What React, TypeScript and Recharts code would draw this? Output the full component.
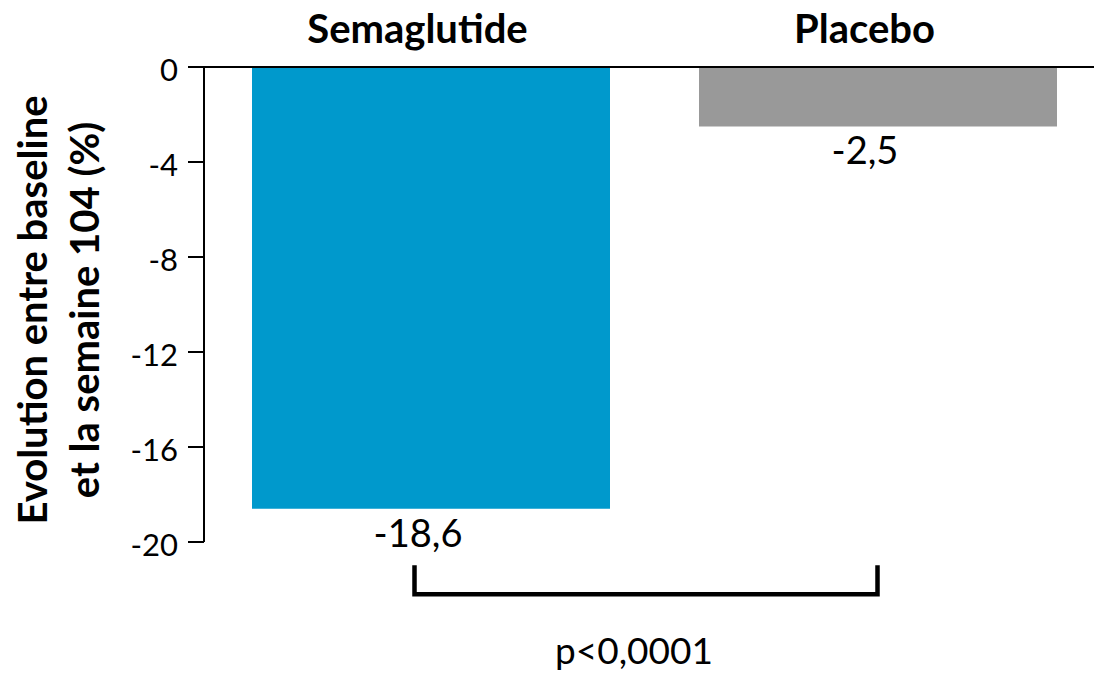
import React from 'react';
import { BarChart, Bar, XAxis, YAxis, Cell, LabelList, ReferenceLine } from 'recharts';

const groups = ['Semaglutide', 'Placebo'];
const changes = [-18.6, -2.5];
const barColors = ['#0099CC', '#999999'];
const yTicks = [0, -4, -8, -12, -16, -20];
const yTitle = ['Evolution entre baseline', 'et la semaine 104 (%)'];
const pValue = 'p<0,0001';
const bracketLevel = -22.2;

const data = groups.map((g, i) => ({ group: g, change: changes[i] }));

const FONT = 'Lato, "Open Sans", sans-serif';

// labels sit a bit left of the bar centres in the original
const SHIFT = -13;

const fmt = (v: number) => String(v).replace('.', ',');

const GroupTick = (props: any) => {
  const { x, payload } = props;
  return (
    <text x={x + SHIFT} y={43} textAnchor="middle" fontFamily={FONT} fontSize={40} fontWeight={700} fill="#000">
      {payload.value}
    </text>
  );
};

const ValueLabel = (props: any) => {
  const { x, y, width, height, value } = props;
  const bottom = Math.max(y, y + height);
  return (
    <text x={x + width / 2 + SHIFT} y={bottom + 38} textAnchor="middle" fontFamily={FONT} fontSize={38} fill="#000">
      {fmt(value)}
    </text>
  );
};

const YTitle = () => (
  <g fontFamily={FONT} fontSize={40} fontWeight={700} fill="#000">
    <text transform="translate(47,310) rotate(-90)" textAnchor="middle">{yTitle[0]}</text>
    <text transform="translate(99,310) rotate(-90)" textAnchor="middle">{yTitle[1]}</text>
  </g>
);

const Bracket = (props: any) => {
  const { x1, y1, x2 } = props;
  if (x1 == null) return null;
  const left = x1 - 16;
  const y = y1;
  return (
    <g>
      <path d={`M${left},${y - 29} V${y} H${x2} V${y - 29}`} fill="none" stroke="#000" strokeWidth={4.5} />
      <text x={(left + x2) / 2 - 12} y={y + 70} textAnchor="middle" fontFamily={FONT} fontSize={37} fill="#000">
        {pValue}
      </text>
    </g>
  );
};

export default function App() {
  return (
    <div style={{ width: 1094, height: 674, overflow: 'hidden', background: '#fff' }}>
      <style>{'body{margin:0}'}</style>
      <BarChart width={1102} height={674} data={data} margin={{ top: 7, right: 0, bottom: 132, left: 0 }}>
        <XAxis
          dataKey="group"
          orientation="top"
          height={60}
          padding={{ left: 3, right: 1 }}
          axisLine={{ stroke: '#000', strokeWidth: 2 }}
          tickLine={false}
          tick={<GroupTick />}
          interval={0}
        />
        <YAxis
          domain={[-20, 0]}
          ticks={yTicks}
          width={204}
          allowDataOverflow
          axisLine={{ stroke: '#000', strokeWidth: 2 }}
          tickLine={{ stroke: '#000', strokeWidth: 2 }}
          tickSize={16}
          tickMargin={10}
          tick={{ fontFamily: FONT, fontSize: 31, fill: '#000', dy: 3 }}
          label={{ content: () => <YTitle /> }}
        />
        <Bar dataKey="change" barSize={358} isAnimationActive={false}>
          {data.map((d, i) => (
            <Cell key={d.group} fill={barColors[i]} />
          ))}
          <LabelList dataKey="change" content={<ValueLabel />} />
        </Bar>
        <ReferenceLine
          segment={[
            { x: groups[0], y: bracketLevel },
            { x: groups[1], y: bracketLevel },
          ]}
          ifOverflow="visible"
          shape={<Bracket />}
        />
      </BarChart>
    </div>
  );
}
